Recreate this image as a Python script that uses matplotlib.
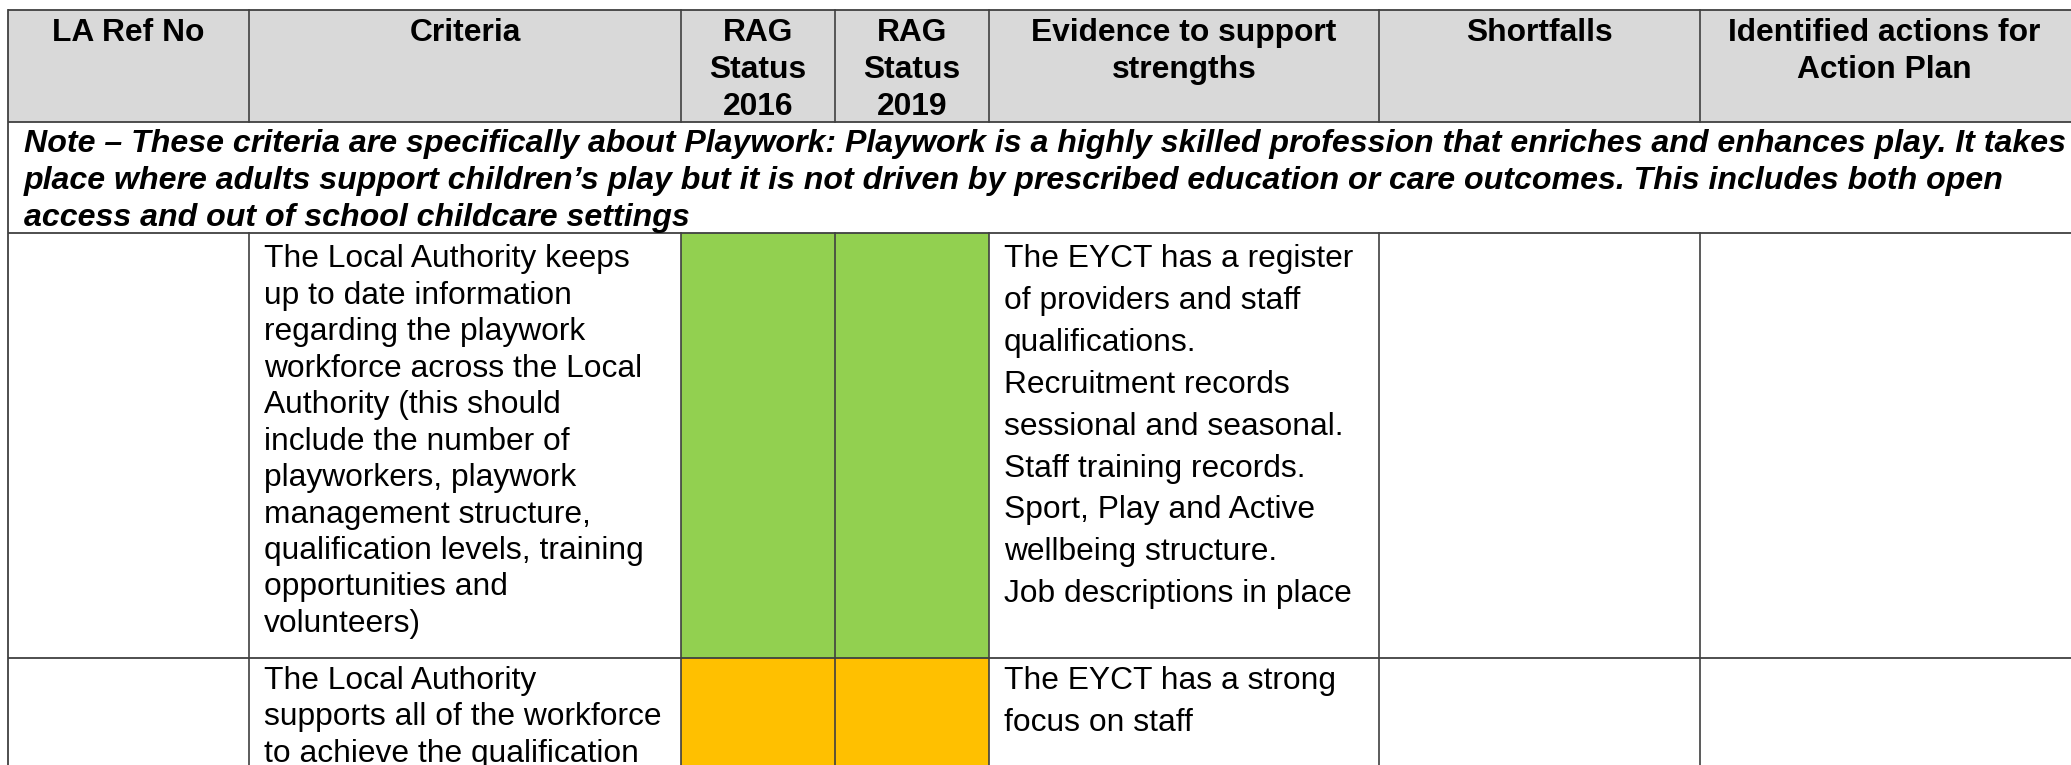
import matplotlib
matplotlib.use("Agg")
import matplotlib.pyplot as plt
from matplotlib.patches import Rectangle

plt.rcParams['font.family'] = ['Liberation Sans', 'DejaVu Sans']

# ------------------------------
# table content
# ------------------------------
headers = [
    ["LA Ref No"],
    ["Criteria"],
    ["RAG", "Status", "2016"],
    ["RAG", "Status", "2019"],
    ["Evidence to support", "strengths"],
    ["Shortfalls"],
    ["Identified actions for", "Action Plan"],
]

note_lines = [
    "Note \u2013 These criteria are specifically about Playwork: Playwork is a highly skilled profession that enriches and enhances play. It takes",
    "place where adults support children\u2019s play but it is not driven by prescribed education or care outcomes. This includes both open",
    "access and out of school childcare settings",
]

criteria = [
    ["The Local Authority keeps", "up to date information", "regarding the playwork",
     "workforce across the Local", "Authority (this should", "include the number of",
     "playworkers, playwork", "management structure,", "qualification levels, training",
     "opportunities and", "volunteers)"],
    ["The Local Authority", "supports all of the workforce", "to achieve the qualification"],
]

evidence = [
    ["The EYCT has a register", "of providers and staff", "qualifications.",
     "Recruitment records", "sessional and seasonal.", "Staff training records.",
     "Sport, Play and Active", "wellbeing structure.", "Job descriptions in place"],
    ["The EYCT has a strong", "focus on staff"],
]

rag_2016 = ["green", "amber"]
rag_2019 = ["green", "amber"]

rag_colours = {"green": "#92D050", "amber": "#FFC000", "red": "#FF0000"}

# ------------------------------
# layout (pixels)
# ------------------------------
W, H = 2071, 765
col_x = [8, 249, 681, 835, 989, 1379, 1700, 2068]
y_top, y_head, y_note = 10, 122, 233
row_top = [233, 658]
row_bot = [658, 800]
line_col = "#404040"
fs = 22.9

fig = plt.figure(figsize=(W / 100, H / 100), dpi=100)
ax = fig.add_axes([0, 0, 1, 1])
ax.set_xlim(0, W)
ax.set_ylim(H, 0)
ax.axis("off")

# header background
ax.add_patch(Rectangle((col_x[0], y_top), W - col_x[0], y_head - y_top,
                       facecolor="#D9D9D9", edgecolor="none"))

# RAG cells
for r in range(len(rag_2016)):
    for c, vals in ((2, rag_2016), (3, rag_2019)):
        ax.add_patch(Rectangle((col_x[c], row_top[r]), col_x[c + 1] - col_x[c],
                               row_bot[r] - row_top[r],
                               facecolor=rag_colours[vals[r]], edgecolor="none"))

# grid lines
for y in [y_top, y_head, y_note] + row_top[1:]:
    ax.plot([col_x[0], W], [y, y], color=line_col, lw=1.3, solid_capstyle="butt")
ax.plot([col_x[0], col_x[0]], [y_top, H], color=line_col, lw=1.3)
for x in col_x[1:-1]:
    ax.plot([x, x], [y_top, y_head], color=line_col, lw=1.2)
    ax.plot([x, x], [y_note, H], color=line_col, lw=1.2)

# header text
for i, lines in enumerate(headers):
    cx = (col_x[i] + col_x[i + 1]) / 2
    for j, t in enumerate(lines):
        ax.text(cx, 41 + j * 37, t, ha="center", va="baseline",
                fontsize=fs, fontweight="bold")

# note text
for j, t in enumerate(note_lines):
    ax.text(24, 152 + j * 36.8, t, ha="left", va="baseline",
            fontsize=23.15, fontweight="bold", fontstyle="italic")

# body text
body_base = [267, 689]
for r in range(len(criteria)):
    for j, t in enumerate(criteria[r]):
        ax.text(264, body_base[r] + j * 36.5, t, ha="left", va="baseline",
                fontsize=fs, clip_on=True)
    for j, t in enumerate(evidence[r]):
        ax.text(1004, body_base[r] + j * 41.9, t, ha="left", va="baseline",
                fontsize=fs, clip_on=True)

fig.savefig("out.png", dpi=100, facecolor="white")
